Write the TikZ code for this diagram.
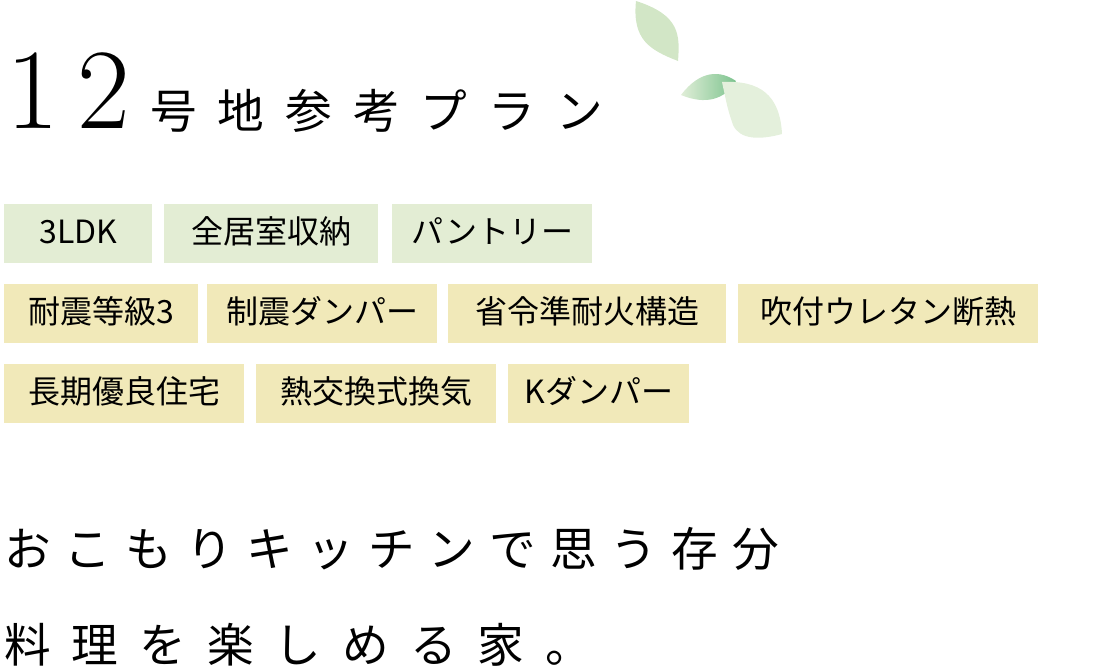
\documentclass[tikz,border=0pt]{standalone}
\usepackage{fontspec}
\newfontfamily\jp{Noto Sans CJK JP}
\usetikzlibrary{positioning}
\definecolor{tagg}{HTML}{E3EDD4}
\definecolor{tagy}{HTML}{F1E9B9}
\definecolor{leafa}{HTML}{D2E6C6}
\definecolor{leafc}{HTML}{E4F0DC}
\definecolor{leafb}{HTML}{7CC38E}
\newlength\px \setlength\px{0.75pt}
\tikzset{
  tag/.style={anchor=north west, inner sep=0pt, minimum height=59\px, text height=19pt, text depth=4pt, font=\jp\fontsize{24}{24}\selectfont, align=center},
  title/.style={anchor=base west, inner sep=0pt},
}
\newcommand\gap{\hspace{0.3em}}
\newcommand\wgap{\hspace{0.45em}}
\begin{document}
\begin{tikzpicture}[x=0.75pt,y=-0.75pt]
  \useasboundingbox (0,0) rectangle (1100,668);
  % leaves
  \fill[leafa] (636,1) .. controls (680,15) and (680,35) .. (678,61)
     .. controls (650,50) and (632,40) .. cycle;
  \shade[left color=leafc!80!leafa, right color=leafb] (681,95) .. controls (700,70) and (720,70) .. (736,81)
     .. controls (725,100) and (705,105) .. cycle;
  \fill[leafc] (722,82) .. controls (760,80) and (780,95) .. (782,134)
     .. controls (760,140) and (740,140) .. (733,125) .. controls (728,110) .. cycle;
  % title
  \node[title, font=\fontsize{86}{86}\selectfont] (num) at (6,128) {1\,2};
  \node[title, font=\jp\fontsize{35}{35}\selectfont] (head) at (150,128) {号\wgap 地\wgap 参\wgap 考\wgap プ\wgap ラ\wgap ン};
  % tags
  \node[tag, fill=tagg, minimum width=148\px] (t1) at (4,204) {3LDK};
  \node[tag, fill=tagg, minimum width=214\px] (t2) at (164,204) {全居室収納};
  \node[tag, fill=tagg, minimum width=200\px] (t3) at (392,204) {パントリー};
  \node[tag, fill=tagy, minimum width=194\px] (t4) at (4,284) {耐震等級3};
  \node[tag, fill=tagy, minimum width=230\px] (t5) at (207,284) {制震ダンパー};
  \node[tag, fill=tagy, minimum width=278\px] (t6) at (448,284) {省令準耐火構造};
  \node[tag, fill=tagy, minimum width=300\px] (t7) at (738,284) {吹付ウレタン断熱};
  \node[tag, fill=tagy, minimum width=240\px] (t8) at (4,364) {長期優良住宅};
  \node[tag, fill=tagy, minimum width=240\px] (t9) at (256,364) {熱交換式換気};
  \node[tag, fill=tagy, minimum width=181\px] (t10) at (508,364) {Kダンパー};
  % catch copy
  \node[title, font=\jp\fontsize{35}{35}\selectfont] (c1) at (4,566) {お\gap こ\gap も\gap り\gap キ\gap ッ\gap チ\gap ン\gap で\gap 思\gap う\gap 存\gap 分};
  \node[title, font=\jp\fontsize{35}{35}\selectfont] (c2) at (4,662) {料\wgap 理\wgap を\wgap 楽\wgap し\wgap め\wgap る\wgap 家\wgap 。};
\end{tikzpicture}
\end{document}
